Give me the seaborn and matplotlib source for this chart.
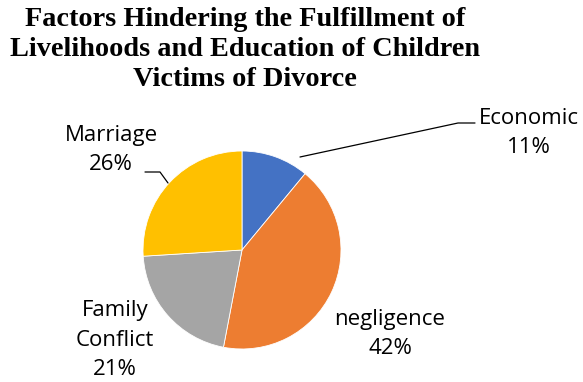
import matplotlib
matplotlib.use("Agg")
import matplotlib.pyplot as plt
import seaborn as sns

categories = ["Economic", "negligence", "Family\nConflict", "Marriage"]
values = [11, 42, 21, 26]
pct_labels = ["11%", "42%", "21%", "26%"]
colors = ["#4472C4", "#ED7D31", "#A5A5A5", "#FFC000"]
title = "Factors Hindering the Fulfillment of\nLivelihoods and Education of Children\nVictims of Divorce"

sns.set_theme(style="white")
plt.rcParams['font.family'] = ['Open Sans', 'DejaVu Sans']

W, H = 583, 382
fig = plt.figure(figsize=(W / 100, H / 100), dpi=100)
ax = fig.add_axes([0, 0, 1, 1])

cx, cy, r = 242, H - 250, 99
ax.pie(values, colors=sns.color_palette(colors), startangle=90, counterclock=False,
       center=(cx, cy), radius=r, frame=True,
       wedgeprops=dict(edgecolor="white", linewidth=0.6))
ax.set_xlim(0, W)
ax.set_ylim(0, H)
ax.set_aspect("equal")
ax.axis("off")

fs = 16
# label positions in pixel coords (x, y-from-top)
label_pos = [(529, 133), (390, 334), (115, 340), (111, 150)]
for cat, pct, (lx, ly) in zip(categories, pct_labels, label_pos):
    ax.text(lx, H - ly, f"{cat}\n{pct}", ha="center", va="center", fontsize=fs,
            color="black", linespacing=1.55)

# leader lines
ax.plot([300, 458, 475], [H - 157, H - 123, H - 123], color="black", lw=0.9)
ax.plot([168, 160, 145], [H - 183, H - 172, H - 172], color="black", lw=0.9)

fig.text(245 / W, 1 - 7 / H, title, ha="center", va="top", fontsize=20.3,
         fontweight="bold", family=["Liberation Serif"], linespacing=1.27, color="black")

fig.savefig("out.png", dpi=100)
